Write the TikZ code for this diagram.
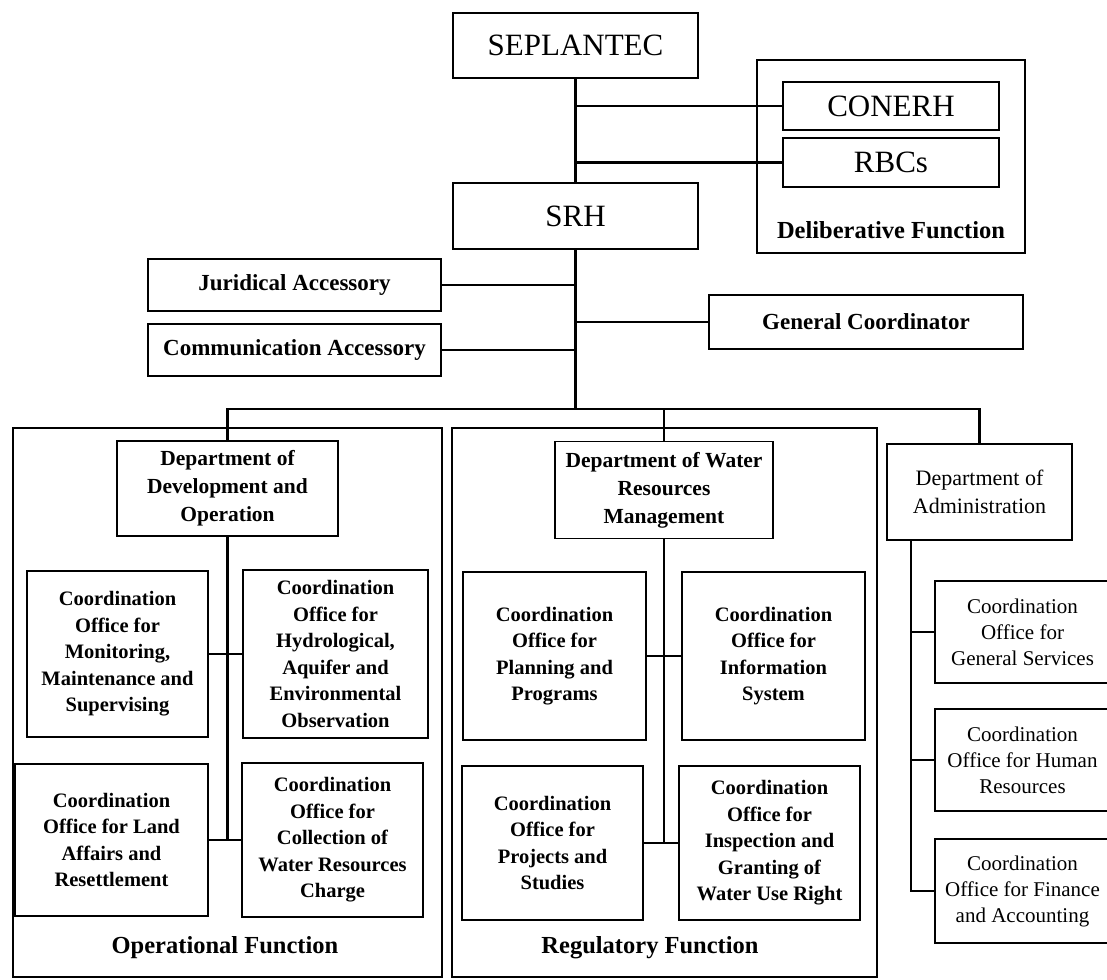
\documentclass[tikz,border=0pt]{standalone}
\usepackage{fontspec}
\setmainfont{Liberation Serif}
\begin{document}
\begin{tikzpicture}[x=1pt,y=-1pt,
  box/.style={draw, line width=1.5pt, inner sep=0pt, align=center, anchor=center},
  big/.style={box, font=\fontsize{31}{36}\selectfont},
  mid/.style={box, font=\bfseries\fontsize{23}{28}\selectfont},
  dept/.style={box, font=\bfseries\fontsize{21.5}{28}\selectfont},
  off/.style={box, font=\bfseries\fontsize{20.5}{26.5}\selectfont},
  adept/.style={box, font=\fontsize{22}{28}\selectfont},
  aoff/.style={box, font=\fontsize{21}{26}\selectfont},
  group/.style={draw, line width=1.5pt, inner sep=0pt},
  ftitle/.style={font=\bfseries\fontsize{24.5}{30}\selectfont, inner sep=0pt},
  conn/.style={line width=2.2pt}]
\fill[white] (0,0) rectangle (1107,979);
\useasboundingbox (0,0) rectangle (1107,979);

% group frames
\node[group, minimum width=268pt, minimum height=193pt] (delib) at (891,156.5) {};
\node[group, minimum width=429pt, minimum height=549pt] (opg) at (227.5,702.5) {};
\node[group, minimum width=425pt, minimum height=549pt] (reg) at (664.5,702.5) {};

% top
\node[big, minimum width=245pt, minimum height=65pt] (sep) at (575.5,45.5) {SEPLANTEC};
\node[big, minimum width=245pt, minimum height=66pt] (srh) at (575.5,216) {SRH};
\node[big, minimum width=216pt, minimum height=48pt] (con) at (891,106) {CONERH};
\node[big, minimum width=216pt, minimum height=49pt] (rbc) at (891,162.5) {RBCs};
\node[ftitle] (delt) at (891,230) {Deliberative Function};

\node[mid, minimum width=293pt, minimum height=52pt] (jur) at (294.5,285) {Juridical Accessory};
\node[mid, minimum width=293pt, minimum height=52pt] (com) at (294.5,350) {Communication Accessory};
\node[mid, minimum width=314pt, minimum height=54pt] (gen) at (866,322) {General Coordinator};

% departments
\node[dept, minimum width=221pt, minimum height=95pt] (ddo) at (227.5,488.5) {Department of\\Development and\\Operation};
\node[dept, minimum width=218pt, minimum height=97pt] (dwr) at (664,490) {Department of Water\\Resources\\Management};
\node[adept, minimum width=185pt, minimum height=96pt] (adm) at (979.5,492) {Department of\\Administration};

% operational offices
\node[off, minimum width=181pt, minimum height=166pt] (mon) at (117.5,654) {Coordination\\Office for\\Monitoring,\\Maintenance and\\Supervising};
\node[off, minimum width=185pt, minimum height=168pt] (hyd) at (335.5,654) {Coordination\\Office for\\Hydrological,\\Aquifer and\\Environmental\\Observation};
\node[off, minimum width=193pt, minimum height=152pt] (lan) at (111.5,840) {Coordination\\Office for Land\\Affairs and\\Resettlement};
\node[off, minimum width=181pt, minimum height=154pt] (col) at (332.5,840) {Coordination\\Office for\\Collection of\\Water Resources\\Charge};
\node[ftitle] (opt) at (225,948) {Operational Function};

% regulatory offices
\node[off, minimum width=183pt, minimum height=168pt] (pla) at (554.5,656) {Coordination\\Office for\\Planning and\\Programs};
\node[off, minimum width=183pt, minimum height=168pt] (inf) at (773.5,656) {Coordination\\Office for\\Information\\System};
\node[off, minimum width=181pt, minimum height=154pt] (pro) at (552.5,843) {Coordination\\Office for\\Projects and\\Studies};
\node[off, minimum width=181pt, minimum height=154pt] (ins) at (769.5,843) {Coordination\\Office for\\Inspection and\\Granting of\\Water Use Right};
\node[ftitle] (regt) at (650,948) {Regulatory Function};

% administration offices
\node[aoff, minimum width=175pt, minimum height=102pt] (gs) at (1022.5,632) {Coordination\\Office for\\General Services};
\node[aoff, minimum width=175pt, minimum height=102pt] (hr) at (1022.5,760) {Coordination\\Office for Human\\Resources};
\node[aoff, minimum width=175pt, minimum height=104pt] (fin) at (1022.5,891) {Coordination\\Office for Finance\\and Accounting};

% connectors
\coordinate (bus) at (575.5,409);
\draw[conn] (sep.south) -- (srh.north);
\draw[conn] (sep.south |- con.west) -- (con.west);
\draw[conn] (sep.south |- rbc.west) -- (rbc.west);
\draw[conn] (srh.south) -- (bus);
\draw[conn] (jur.east) -- (jur.east -| bus);
\draw[conn] (com.east) -- (com.east -| bus);
\draw[conn] (gen.west) -- (gen.west -| bus);
\draw[conn] (ddo.north) |- (bus) -| (adm.north);
\draw[conn] (dwr.north) -- (dwr.north |- bus);

\draw[conn] (ddo.south) -- (ddo.south |- col.west);
\draw[conn] (mon.east) -- (hyd.west);
\draw[conn] (lan.east) -- (col.west);

\draw[conn] (dwr.south) -- (dwr.south |- pro.east);
\draw[conn] (pla.east) -- (inf.west);
\draw[conn] (pro.east) -- (ins.west);

\coordinate (atr) at ([xshift=25pt]adm.south west);
\draw[conn] (atr) |- (fin.west);
\draw[conn] (gs.west -| atr) -- (gs.west);
\draw[conn] (hr.west -| atr) -- (hr.west);
\end{tikzpicture}
\end{document}
